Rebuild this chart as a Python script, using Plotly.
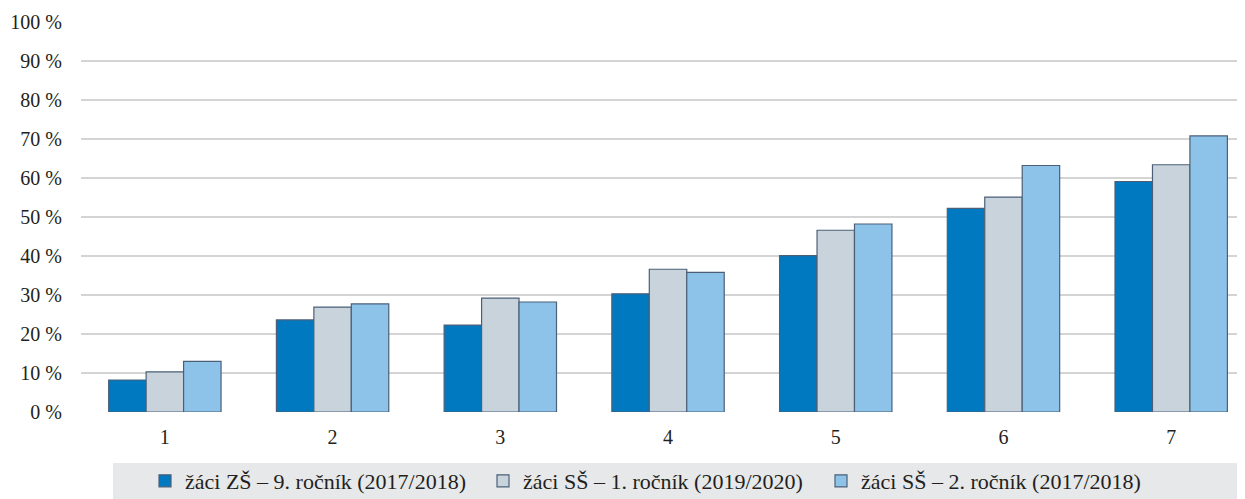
import plotly.graph_objects as go

categories = ["1", "2", "3", "4", "5", "6", "7"]
series_names = ["žáci ZŠ – 9. ročník (2017/2018)",
                "žáci SŠ – 1. ročník (2019/2020)",
                "žáci SŠ – 2. ročník (2017/2018)"]
zs9 = [8.2, 23.6, 22.3, 30.3, 40.1, 52.2, 59.1]
ss1 = [10.3, 26.9, 29.2, 36.6, 46.6, 55.1, 63.4]
ss2 = [13.0, 27.7, 28.2, 35.8, 48.2, 63.2, 70.8]
y_ticks = [0, 10, 20, 30, 40, 50, 60, 70, 80, 90, 100]
y_tick_labels = [f"{v} %" for v in y_ticks]

colors = ["#0079C1", "#C9D3DC", "#8EC3E9"]
outline = "#4B6078"
font_family = "Liberation Serif, Times New Roman, serif"

fig = go.Figure()
for name, vals, col in zip(series_names, [zs9, ss1, ss2], colors):
    fig.add_trace(go.Bar(
        x=categories, y=vals, name=name,
        marker=dict(color=col, line=dict(color=outline, width=1.2)),
    ))

# page has an 8px body margin; figure coords = page coords - 8
OFF = 8
W, H = 1245 - OFF, 499 - OFF
ml, mr, mt = 81 - OFF, 0, 22 - OFF
plot_bottom = 412 - OFF
mb = H - plot_bottom
pw = W - ml - mr
ph = H - mt - mb

def px_x(p):
    return (p - OFF - ml) / pw

def px_y(p):
    return (H - mb - (p - OFF)) / ph

fig.add_shape(type="rect", xref="paper", yref="paper",
              x0=px_x(113), x1=px_x(1237), y0=px_y(499), y1=px_y(463),
              fillcolor="#E7E8EA", line=dict(width=0), layer="below")

fig.update_layout(
    width=W, height=H,
    margin=dict(l=ml, r=mr, t=mt, b=mb, autoexpand=False),
    paper_bgcolor="white", plot_bgcolor="white",
    barmode="group", bargap=0.33, bargroupgap=0,
    font=dict(family=font_family, size=20, color="#231F20"),
    showlegend=True,
    legend=dict(orientation="h", x=px_x(145), xanchor="left",
                y=px_y(481), yanchor="middle",
                bgcolor="rgba(0,0,0,0)", font=dict(size=22, family=font_family),
                entrywidth=293, entrywidthmode="pixels", itemwidth=30,
                traceorder="normal"),
    xaxis=dict(type="category", range=[-0.5, 6.44], showgrid=False,
               showline=False, zeroline=False, ticks="", automargin=False,
               tickfont=dict(size=20), ticklabelstandoff=11),
    yaxis=dict(range=[0, 100], tickvals=y_ticks, ticktext=y_tick_labels,
               showgrid=True, gridcolor="#D4D4D4", gridwidth=2,
               zeroline=False, showline=False, ticks="", automargin=False,
               tickfont=dict(size=20), ticklabelstandoff=18),
)

fig.write_html("out.html")
